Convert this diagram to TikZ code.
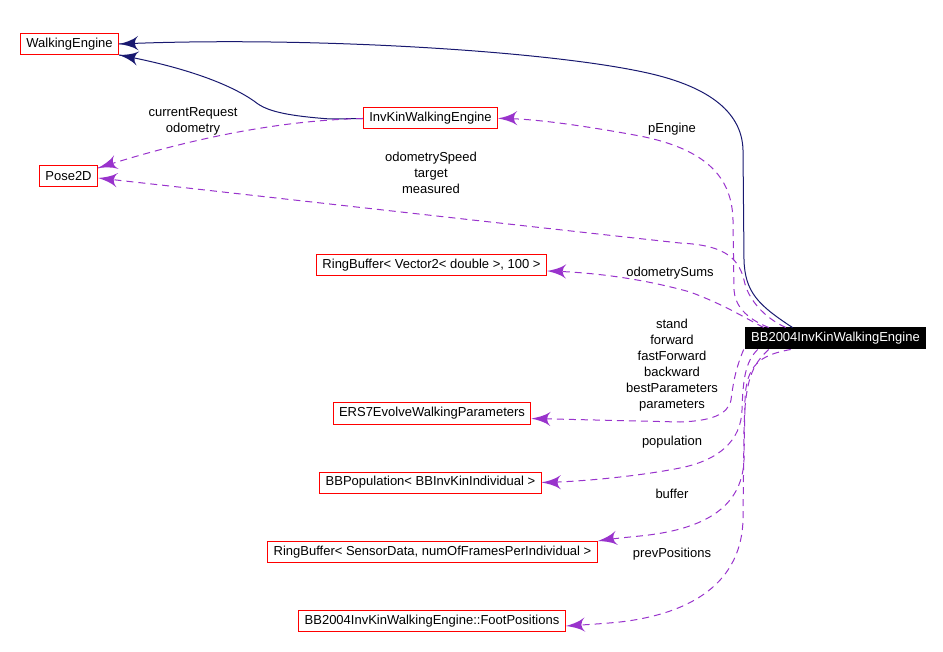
\documentclass[tikz,border=0pt]{standalone}
\usepackage{fontspec}
\setmainfont{Liberation Sans}
\usetikzlibrary{arrows}
\usetikzlibrary{decorations.markings}
\tikzset{headtip/.style = {decoration={markings,
                                       mark=at position 0.9999 with {\arrow[scale=3.3]{latex'}}},
                           postaction={decorate}}}
\tikzset{cls/.style = {draw=mred, line width=1pt, inner xsep=6pt, inner ysep=0pt, minimum height=21pt}}
\tikzset{inh/.style = {mnavy, line width=1pt, headtip}}
\tikzset{usage/.style = {mpurple, line width=1pt, dash pattern=on 7pt off 5pt, headtip}}
\tikzset{lbl/.style = {align=center}}
\definecolor{mred}{rgb}{1, 0, 0}
\definecolor{mnavy}{rgb}{0.1, 0.1, 0.44}
\definecolor{mpurple}{rgb}{0.6, 0.2, 0.8}

\begin{document}
\begin{tikzpicture}[x=1pt, y=-1pt, font=\fontsize{13}{16}\selectfont]
    \useasboundingbox (0, 0) rectangle (943, 652);

    \node [cls] (walk) at (69.5, 44) {WalkingEngine};
    \node [cls] (inv) at (430.5, 118.5) {InvKinWalkingEngine};
    \node [cls] (pose) at (68.5, 176) {Pose2D};
    \node [cls] (rbv) at (431.5, 265) {RingBuffer< Vector2< double >, 100 >};
    \node [cls, draw=black, fill=black, text=white] (bb) at (835.5, 338.5) {BB2004InvKinWalkingEngine};
    \node [cls] (ers) at (432, 413.5) {ERS7EvolveWalkingParameters};
    \node [cls] (pop) at (430.5, 482.5) {BBPopulation< BBInvKinIndividual >};
    \node [cls] (rbs) at (432.5, 552) {RingBuffer< SensorData, numOfFramesPerIndividual >};
    \node [cls] (foot) at (432, 621) {BB2004InvKinWalkingEngine::FootPositions};

    % inheritance
    \draw [inh] ([xshift=-43pt]bb.north) .. controls (758, 305) and (745, 292) .. (744, 260)
        -- (743, 150) .. controls (742, 110) and (705, 85) .. (643, 72)
        .. controls (540, 50) and (300, 36) .. (walk.east);
    \draw [inh] (inv.west) -- (330, 119) .. controls (290, 116) and (270, 112) .. (258, 104)
        .. controls (240, 90) and (200, 70) .. (walk.south east);

    % members
    \draw [usage] (inv.west) .. controls (290, 120) and (200, 135) .. ([yshift=8pt]pose.east);
    \draw [usage] ([xshift=24pt]bb.north west) .. controls (745, 318) and (735, 305) .. (734, 290)
        -- (733, 220) .. controls (732, 180) and (710, 150) .. (640, 136)
        .. controls (580, 125) and (530, 118) .. (inv.east);
    \draw [usage] ([xshift=41pt]bb.north west) .. controls (765, 318) and (748, 300) .. (744, 280)
        .. controls (738, 255) and (720, 245) .. (680, 243)
        .. controls (560, 230) and (250, 195) .. ([yshift=-2pt]pose.east);
    \draw [usage] ([xshift=19pt]bb.north west) .. controls (745, 318) and (725, 305) .. (690, 292)
        .. controls (640, 278) and (590, 272) .. ([yshift=-6pt]rbv.east);

    \draw [usage] ([xshift=-1pt]bb.south west) .. controls (735, 370) and (733, 385) .. (731, 400)
        .. controls (728, 415) and (710, 421) .. (680, 422) -- ([yshift=-5pt]ers.east);
    \draw [usage] ([xshift=13pt]bb.south west) .. controls (745, 362) and (743, 380) .. (742, 410)
        .. controls (741, 440) and (720, 460) .. (680, 468)
        .. controls (640, 476) and (580, 482) .. (pop.east);
    \draw [usage] ([xshift=46pt]bb.south west) .. controls (760, 355) and (746, 365) .. (745, 400)
        -- (744, 460) .. controls (742, 510) and (700, 530) .. (640, 536)
        .. controls (620, 538) and (610, 539) .. (rbs.north east);
    \draw [usage] ([xshift=24pt]bb.south west) .. controls (752, 365) and (745, 380) .. (744, 430)
        -- (743, 520) .. controls (741, 590) and (680, 615) .. (620, 622)
        .. controls (600, 624) and (580, 625) .. ([yshift=-5pt]foot.east);

    % labels
    \node [lbl] (lcur) at (193, 121) {currentRequest\\odometry};
    \node [lbl] (lspeed) at (431, 173) {odometrySpeed\\target\\measured};
    \node (leng) at (672, 129) {pEngine};
    \node (lsums) at (670, 273) {odometrySums};
    \node [lbl] (lpar) at (672, 365) {stand\\forward\\fastForward\\backward\\bestParameters\\parameters};
    \node (lpop) at (672, 442) {population};
    \node (lbuf) at (672, 494) {buffer};
    \node (lprev) at (672, 554) {prevPositions};
\end{tikzpicture}
\end{document}
